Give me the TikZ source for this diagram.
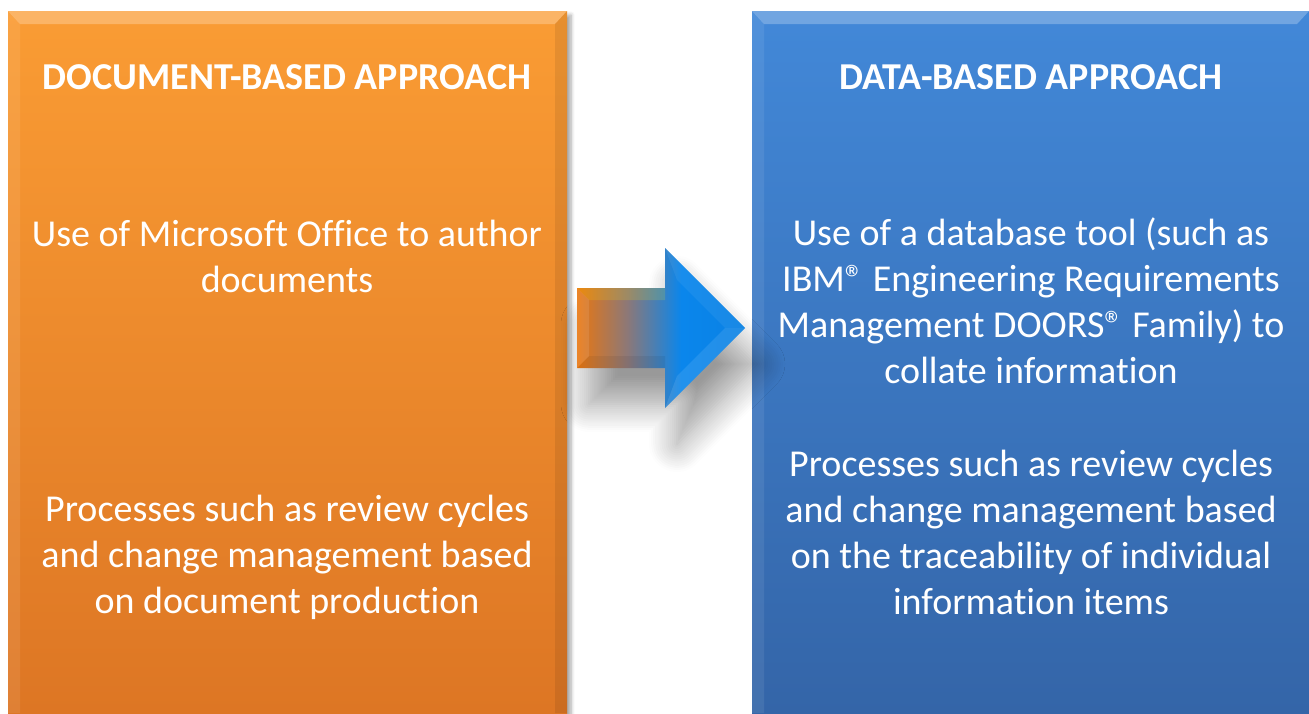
\documentclass[tikz,border=0pt]{standalone}
\usepackage{fontspec}
\setmainfont[Ligatures=NoCommon]{Carlito}
\usetikzlibrary{shadows.blur}

\definecolor{docTop}{RGB}{250,156,52}
\definecolor{docBottom}{RGB}{221,118,36}
\definecolor{dataTop}{RGB}{66,136,216}
\definecolor{dataBottom}{RGB}{52,101,168}
\definecolor{arrowOrange}{RGB}{255,126,10}
\definecolor{arrowBlue}{RGB}{10,134,236}
\definecolor{arrowMid}{RGB}{140,120,120}

\pgfdeclarehorizontalshading{arrowfade}{100bp}{
  color(0bp)=(arrowOrange); color(24bp)=(arrowOrange!94!black);
  color(40bp)=(arrowMid); color(56bp)=(arrowBlue);
  color(100bp)=(arrowBlue!92!black)}

\tikzset{
  boxtitle/.style={text=white, font=\fontsize{19}{23}\selectfont\bfseries, align=center},
  boxtext/.style={text=white, font=\fontsize{19}{23}\selectfont, align=center},
  boxshadow/.style={blur shadow={shadow xshift=2pt, shadow yshift=-2pt, shadow blur steps=6, shadow opacity=35}}
}

\begin{document}
\begin{tikzpicture}[x=0.5pt, y=-0.5pt]
  \useasboundingbox (0,0) rectangle (1309,713);

  % Left box: document-based
  \begin{scope}
    \shade[boxshadow, top color=docTop, bottom color=docBottom] (8,11) rectangle (567,713);
    % bevel
    \fill[white, opacity=0.25] (8,11) -- (567,11) -- (555,24) -- (20,24) -- cycle;
    \fill[white, opacity=0.08] (8,11) -- (20,24) -- (20,713) -- (8,713) -- cycle;
    \fill[black, opacity=0.08] (567,11) -- (555,24) -- (555,713) -- (567,713) -- cycle;

    \node (doctitle) at (287,77) [boxtitle] {DOCUMENT-BASED APPROACH};
    \node (docuse) at (287,256) [boxtext] {Use of Microsoft Office to author\\documents};
    \node (docproc) at (287,557) [boxtext] {Processes such as review cycles\\and change management based\\on document production};
  \end{scope}

  % Right box: data-based
  \begin{scope}
    \shade[boxshadow, top color=dataTop, bottom color=dataBottom] (752,11) rectangle (1309,713);
    % bevel
    \fill[white, opacity=0.25] (752,11) -- (1309,11) -- (1297,24) -- (764,24) -- cycle;
    \fill[white, opacity=0.08] (752,11) -- (764,24) -- (764,713) -- (752,713) -- cycle;

    \node (datatitle) at (1031,77) [boxtitle] {DATA-BASED APPROACH};
    \node (datause) at (1031,301) [boxtext] {Use of a database tool (such as\\IBM® Engineering Requirements\\Management DOORS® Family) to\\collate information};
    \node (dataproc) at (1031,532) [boxtext] {Processes such as review cycles\\and change management based\\on the traceability of individual\\information items};
  \end{scope}

  % Arrow between the boxes
  \shade[shading=arrowfade, blur shadow={shadow xshift=6pt, shadow yshift=-18pt, shadow blur steps=14, shadow opacity=40, shadow blur radius=14pt}]
    (577,288) -- (665,288) -- (665,248) -- (745,328) -- (665,408) -- (665,368) -- (577,368) -- cycle;
  % facets
  \fill[yellow, opacity=0.15] (577,288) -- (665,288) -- (665,300) -- (589,300) -- cycle;
  \fill[white, opacity=0.10] (577,288) -- (589,300) -- (589,356) -- (577,368) -- cycle;
  \fill[black, opacity=0.06] (577,368) -- (665,368) -- (665,356) -- (589,356) -- cycle;
  \fill[white, opacity=0.06] (665,248) -- (745,328) -- (725,328) -- (677,280) -- cycle;
  \fill[white, opacity=0.10] (665,408) -- (745,328) -- (725,328) -- (677,376) -- cycle;

\end{tikzpicture}
\end{document}
